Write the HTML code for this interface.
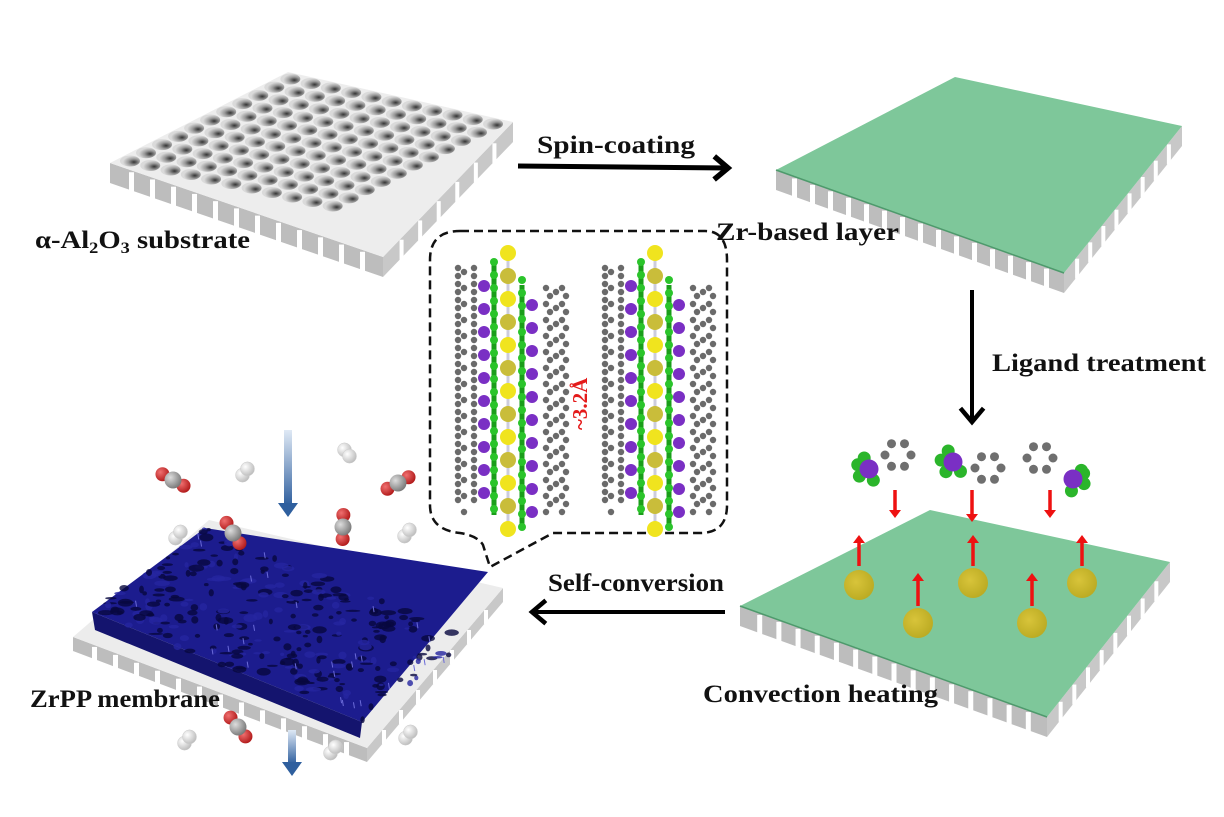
<!DOCTYPE html>
<html><head><meta charset="utf-8"><style>
html,body{margin:0;padding:0;background:#fff;}
svg{display:block}
text{font-family:"Liberation Serif",serif;font-weight:bold;fill:#111}
</style></head><body>
<svg id="s" width="1224" height="817" viewBox="0 0 1224 817" xmlns="http://www.w3.org/2000/svg">
<defs>
<radialGradient id="hole" cx="0.7" cy="0.6" r="0.55"><stop offset="0" stop-color="#333"/><stop offset="0.5" stop-color="#999"/><stop offset="1" stop-color="#dadada"/></radialGradient>
<linearGradient id="barr" x1="0" y1="0" x2="0" y2="1"><stop offset="0" stop-color="#dfe9f5"/><stop offset="1" stop-color="#2f5f9e"/></linearGradient>
<radialGradient id="gO" cx="0.35" cy="0.35" r="0.7"><stop offset="0" stop-color="#f07070"/><stop offset="1" stop-color="#b01818"/></radialGradient>
<radialGradient id="gC" cx="0.35" cy="0.35" r="0.7"><stop offset="0" stop-color="#ddd"/><stop offset="1" stop-color="#777"/></radialGradient>
<radialGradient id="gH" cx="0.35" cy="0.35" r="0.7"><stop offset="0" stop-color="#fff"/><stop offset="1" stop-color="#bbb"/></radialGradient>
<radialGradient id="gY" cx="0.4" cy="0.4" r="0.7"><stop offset="0" stop-color="#d8c43a"/><stop offset="1" stop-color="#b8a820"/></radialGradient>
</defs>
<g id="g"></g>
<text x="35" y="248" font-size="25" textLength="215" lengthAdjust="spacingAndGlyphs">α-Al<tspan font-size="16" dy="5">2</tspan><tspan dy="-5">O</tspan><tspan font-size="16" dy="5">3</tspan><tspan dy="-5"> substrate</tspan></text>
<text x="537" y="153" font-size="25" textLength="158" lengthAdjust="spacingAndGlyphs">Spin-coating</text>
<text x="716" y="240" font-size="25" textLength="183" lengthAdjust="spacingAndGlyphs">Zr-based layer</text>
<text x="992" y="371" font-size="25" textLength="214" lengthAdjust="spacingAndGlyphs">Ligand treatment</text>
<text x="548" y="591" font-size="25" textLength="176" lengthAdjust="spacingAndGlyphs">Self-conversion</text>
<text x="703" y="702" font-size="25" textLength="235" lengthAdjust="spacingAndGlyphs">Convection heating</text>
<text x="30" y="707" font-size="25" textLength="190" lengthAdjust="spacingAndGlyphs">ZrPP membrane</text>
<text x="0" y="0" font-size="21" style="fill:#e41a1a" transform="translate(587,430) rotate(-90)">~3.2Å</text>
</svg>
<script>
const NS="http://www.w3.org/2000/svg";const G=document.getElementById('g');
function el(t,a,p){const e=document.createElementNS(NS,t);for(const k in a)e.setAttribute(k,a[k]);(p||G).appendChild(e);return e;}
function P(o,u,v,a,b){return [o[0]+u[0]*a+v[0]*b,o[1]+u[1]*a+v[1]*b];}
function pts(a){return a.map(p=>p[0].toFixed(1)+','+p[1].toFixed(1)).join(' ');}
function plate(L,T,R,B,th,top,side,notch,n){
  el('polygon',{points:pts([L,B,[B[0],B[1]+th],[L[0],L[1]+th]]),fill:side});
  el('polygon',{points:pts([B,R,[R[0],R[1]+th],[B[0],B[1]+th]]),fill:'#c8c8c8'});
  if(notch){
    for(let i=1;i<n;i++){const f=i/n;const x=L[0]+(B[0]-L[0])*f,y=L[1]+(B[1]-L[1])*f;
      el('rect',{x:x-2,y:y+2,width:5,height:th,fill:'#fff'});}
    for(let i=1;i<Math.round(n*0.55);i++){const f=i/Math.round(n*0.55);const x=B[0]+(R[0]-B[0])*f,y=B[1]+(R[1]-B[1])*f;
      el('rect',{x:x-2,y:y+2,width:4,height:th,fill:'#fff'});}
  }
  el('polygon',{points:pts([L,T,R,B]),fill:top});
}
let L=[110,163],T=[288,72],R=[513,122],B=[383,257];
plate(L,T,R,B,20,'#ededed','#bdbdbd',true,13);
let u=[T[0]-L[0],T[1]-L[1]],v=[R[0]-T[0],R[1]-T[1]];
for(let i=0;i<11;i++)for(let j=0;j<11;j++){const p=P(L,u,v,(i+0.55)/11.1,(j+0.55)/11.1);
  el('ellipse',{cx:p[0],cy:p[1],rx:10,ry:5.5,fill:'url(#hole)'});}
plate([776,170],[955,77],[1182,126],[1064,273],20,'#7ec79a','#bdbdbd',true,16);
el('line',{x1:776,y1:170,x2:1064,y2:273,stroke:'#4e9a6c','stroke-width':1.5});
plate([740,606],[930,510],[1170,562],[1047,717],20,'#7ec79a','#bdbdbd',true,16);
el('line',{x1:740,y1:606,x2:1047,y2:717,stroke:'#4e9a6c','stroke-width':1.5});
function arrow(x1,y1,x2,y2,w,col,hs){el('line',{x1,y1,x2,y2,stroke:col,'stroke-width':w});
  const a=Math.atan2(y2-y1,x2-x1);const h=hs||14;
  el('polyline',{points:pts([[x2-h*Math.cos(a-0.7),y2-h*Math.sin(a-0.7)],[x2,y2],[x2-h*Math.cos(a+0.7),y2-h*Math.sin(a+0.7)]]),fill:'none',stroke:col,'stroke-width':w+0.5});}
arrow(518,166,728,168,5,'#000',18);
arrow(972,290,972,422,4,'#000',18);
arrow(725,612,532,612,4,'#000',18);
function red(x,y1,y2){const d=y2>y1?1:-1;el('line',{x1:x,y1:y1,x2:x,y2:y2-d*6,stroke:'#ee1111','stroke-width':3.5});
  el('polygon',{points:pts([[x-6,y2-d*8],[x+6,y2-d*8],[x,y2]]),fill:'#ee1111'});}
[[895,490,518],[972,490,522],[1050,490,518]].forEach(a=>red(...a));
[[859,566,535],[973,566,535],[1082,566,535],[918,606,573],[1032,606,573]].forEach(a=>red(...a));
[[859,585],[973,583],[1082,583],[918,623],[1032,623]].forEach(c=>el('circle',{cx:c[0],cy:c[1],r:15,fill:'url(#gY)'}));
function ring(cx,cy,r){for(let k=0;k<6;k++){const a=k*Math.PI/3;el('circle',{cx:cx+r*Math.cos(a),cy:cy+r*Math.sin(a),r:4.5,fill:'#6f6f6f'});}}
function cluster(cx,cy,dirs){dirs.forEach(a=>el('circle',{cx:cx+12*Math.cos(a),cy:cy+12*Math.sin(a),r:6.5,fill:'#2bb52b'}));el('circle',{cx,cy,r:9.5,fill:'#7a2fc4'});}
ring(898,455,13);cluster(869,469,[3.5,2.5,1.2,4.3]);
ring(988,468,13);cluster(953,462,[3.3,2.2,4.3,0.9]);
ring(1040,458,13);cluster(1073,479,[5.8,0.4,1.7,-0.8]);
el('path',{d:'M460,231 H705 Q727,231 727,260 V505 Q727,533 700,533 H553 L490,567 L483,545 Q478,536 460,533 Q430,530 430,505 V260 Q430,231 460,231 Z',fill:'none',stroke:'#111','stroke-width':2.5,'stroke-dasharray':'9,5'});
function column(xc){
  [-52,-36,40,56].forEach((dx,ii)=>{for(let y=268+(ii>1?20:0);y<520-(ii>1?0:15);y+=8){el('circle',{cx:xc+dx+((y/8)%2?2:-2),cy:y,r:3.2,fill:'#6a6a6a'});}});
  [-44,48].forEach((dx,ii)=>{for(let y=272+(ii?20:0);y<515;y+=16){el('circle',{cx:xc+dx,cy:y,r:3.2,fill:'#6a6a6a'});}});
  el('line',{x1:xc,y1:253,x2:xc,y2:530,stroke:'#ccd','stroke-width':3});
  el('line',{x1:xc-14,y1:265,x2:xc-14,y2:515,stroke:'#1a9e1a','stroke-width':5});
  el('line',{x1:xc+14,y1:285,x2:xc+14,y2:525,stroke:'#1a9e1a','stroke-width':5});
  for(let y=253,k=0;y<=530;y+=23,k++){el('circle',{cx:xc,cy:y,r:8,fill:k%2?'#c9bd3a':'#f0e41e'});}
  for(let y=286;y<=505;y+=23){el('circle',{cx:xc-24,cy:y,r:6,fill:'#7a2fc4'});}
  for(let y=305;y<=520;y+=23){el('circle',{cx:xc+24,cy:y,r:6,fill:'#7a2fc4'});}
  for(let y=262;y<=520;y+=13){el('circle',{cx:xc-14,cy:y,r:4,fill:'#2bc42b'});el('circle',{cx:xc+14,cy:y+18,r:4,fill:'#2bc42b'});}
}
column(508);column(655);
const bl=[73,637],bt=[209,520],br=[503,588],bb=[367,748];
plate(bl,bt,br,bb,14,'#ececec','#bdbdbd',true,14);
el('polygon',{points:pts([[92,612],[205,528],[488,572],[362,722]]),fill:'#1c1c8e'});
el('polygon',{points:pts([[92,612],[362,722],[360,738],[95,630]]),fill:'#14146e'});
let seed=7;function rnd(){seed=(seed*9301+49297)%233280;return seed/233280;}
const mu=[205-92,528-612],mv=[362-92,722-612];
for(let k=0;k<300;k++){const p=P([92,612],mu,mv,rnd(),rnd());
  el('ellipse',{cx:p[0],cy:p[1],rx:2+rnd()*6,ry:1+rnd()*3,fill:rnd()<0.65?'#08083f':'#2626a0',opacity:0.8});}
for(let k=0;k<30;k++){const p=P([92,612],mu,mv,rnd(),rnd());el('line',{x1:p[0],y1:p[1],x2:p[0]+1,y2:p[1]+6,stroke:'#6a6ad8','stroke-width':1});}
function barr(x,y1,y2){el('rect',{x:x-4,y:y1,width:8,height:y2-y1-12,fill:'url(#barr)'});el('polygon',{points:pts([[x-10,y2-14],[x+10,y2-14],[x,y2]]),fill:'#2f5f9e'});}
barr(288,430,517);barr(292,730,776);
function co2(x,y,a){const c=Math.cos(a),s=Math.sin(a);el('circle',{cx:x-12*c,cy:y-12*s,r:7,fill:'url(#gO)'});el('circle',{cx:x+12*c,cy:y+12*s,r:7,fill:'url(#gO)'});el('circle',{cx:x,cy:y,r:8.5,fill:'url(#gC)'});}
function h2(x,y,a){const c=Math.cos(a),s=Math.sin(a);el('circle',{cx:x-4*c,cy:y-4*s,r:7,fill:'url(#gH)',stroke:'#ccc','stroke-width':0.5});el('circle',{cx:x+4*c,cy:y+4*s,r:7,fill:'url(#gH)',stroke:'#ccc','stroke-width':0.5});}
co2(173,480,0.5);co2(398,483,-0.5);co2(233,533,1.0);co2(343,527,1.6);co2(238,727,0.9);
h2(245,472,-0.9);h2(347,453,0.9);h2(178,535,-0.9);h2(407,533,-0.9);h2(187,740,-0.9);h2(333,750,-0.9);h2(408,735,-0.9);
</script>
</body></html>
